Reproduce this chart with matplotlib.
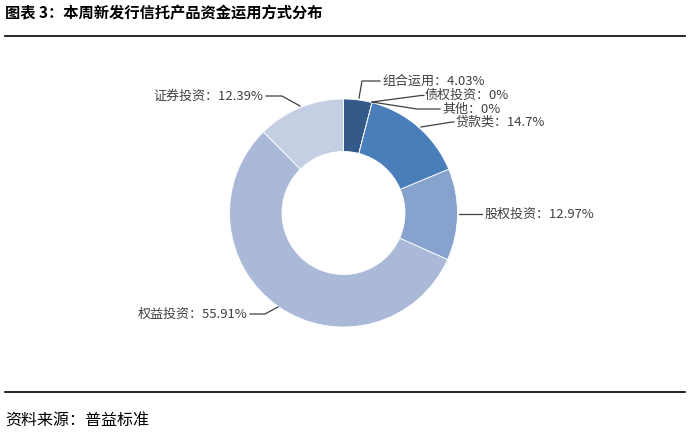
import matplotlib.pyplot as plt
from matplotlib.lines import Line2D

plt.rcParams['font.family'] = ['Noto Sans CJK SC', 'DejaVu Sans']

# 数据
labels = ["组合运用", "债权投资", "其他", "贷款类", "股权投资", "权益投资", "证券投资"]
values = [4.03, 0, 0, 14.7, 12.97, 55.91, 12.39]
value_text = ["4.03%", "0%", "0%", "14.7%", "12.97%", "55.91%", "12.39%"]
colors = ["#345a89", "#4a7ebb", "#4a7ebb", "#4a7ebb", "#86a2cd", "#aab9d8", "#c5cfe3"]

W, H = 689, 432
fig = plt.figure(figsize=(W / 100, H / 100), dpi=100)
ax = fig.add_axes([0, 0, 1, 1])

cx, cy = 343.5, H - 213
r_out, r_in = 114, 61.5
ax.pie(values, colors=colors, startangle=90, counterclock=False,
       center=(cx, cy), radius=r_out, frame=True,
       wedgeprops=dict(width=r_out - r_in, edgecolor="white", linewidth=0.6))
ax.set_xlim(0, W)
ax.set_ylim(0, H)
ax.set_aspect("equal")
ax.axis("off")

# 引导线 (像素坐标, y 向下)
leaders = [
    [(359, 98), (362, 81), (380, 81)],
    [(372, 102), (421, 95.5), (424, 95.5)],
    [(372, 102), (417, 109), (440, 109)],
    [(421, 127), (452, 122), (454, 122)],
    [(459, 214), (482, 214)],
    [(278, 307), (265, 314), (250, 314)],
    [(300, 106), (282, 96), (266, 96)],
]
text_pos = [(382, 81, "left"), (425, 95.5, "left"), (442, 109, "left"),
            (456, 122, "left"), (485, 214, "left"), (247, 314, "right"),
            (263, 96, "right")]

for pts, (tx, ty, ha), lab, vt in zip(leaders, text_pos, labels, value_text):
    xs = [p[0] for p in pts]
    ys = [H - p[1] for p in pts]
    ax.add_line(Line2D(xs, ys, color="#404040", lw=0.9))
    ax.text(tx, H - ty, lab + "：" + vt, ha=ha, va="center",
            fontsize=9.4, color="#404040")

# 标题与来源
fig.text(5 / W, 1 - 13 / H, "图表 3：本周新发行信托产品资金运用方式分布",
         fontsize=11, fontweight="bold", color="black", va="center", ha="left")
fig.add_artist(Line2D([5 / W, 685 / W], [1 - 36 / H, 1 - 36 / H],
                      color="black", lw=1.2, transform=fig.transFigure))
fig.add_artist(Line2D([5 / W, 685 / W], [1 - 392 / H, 1 - 392 / H],
                      color="black", lw=1.2, transform=fig.transFigure))
fig.text(5 / W, 1 - 420 / H, "资料来源：普益标准",
         fontsize=11.5, color="black", va="center", ha="left")

plt.savefig("out.png", dpi=100)
